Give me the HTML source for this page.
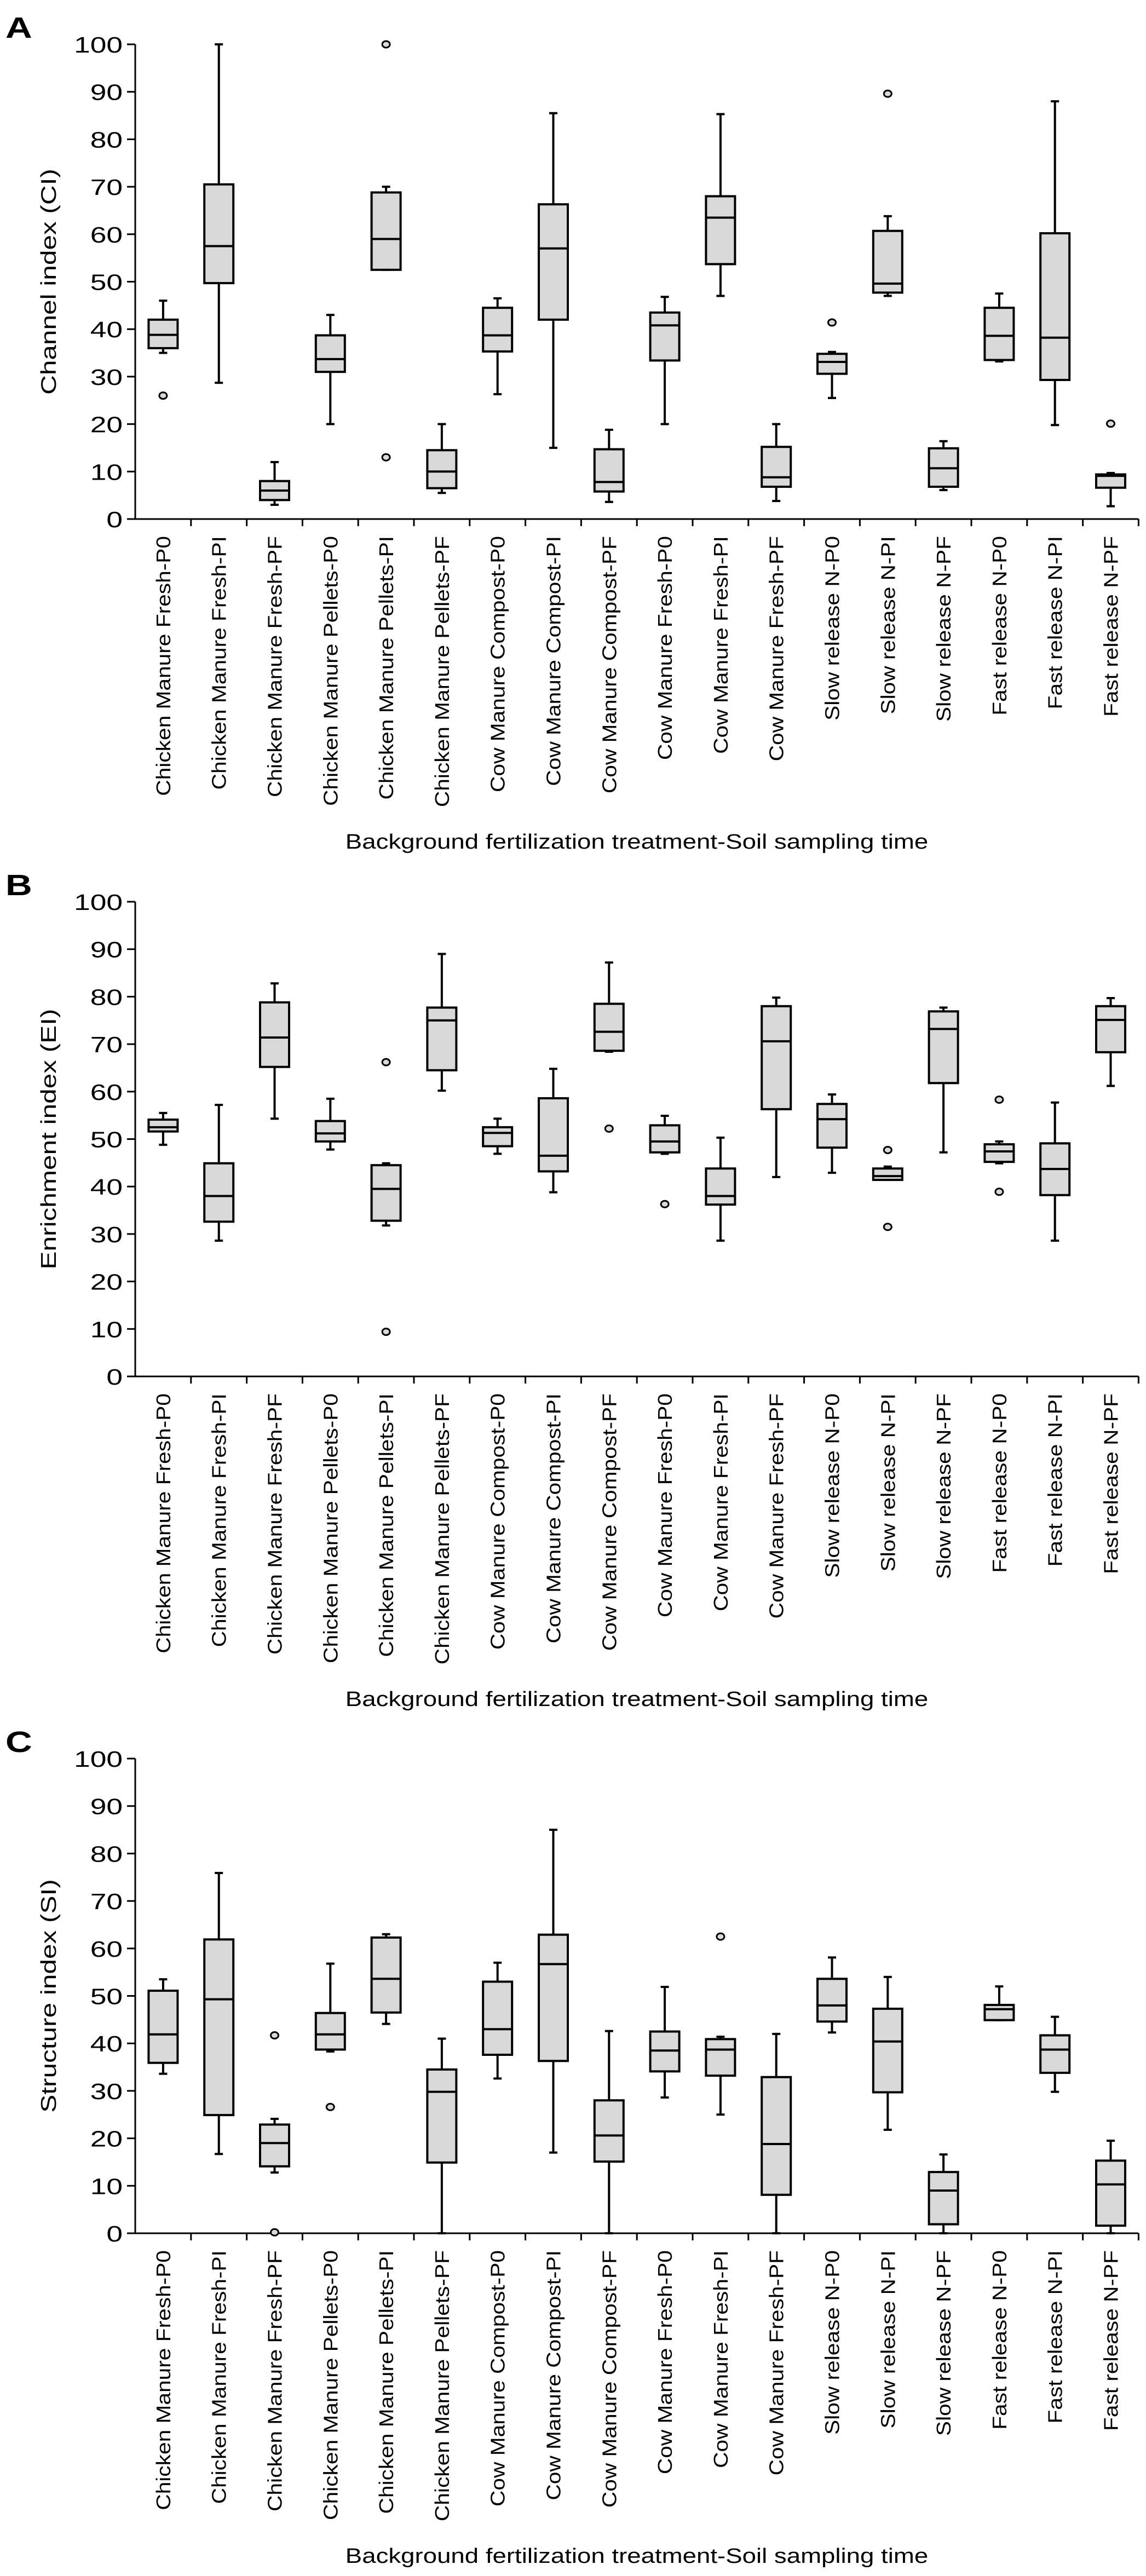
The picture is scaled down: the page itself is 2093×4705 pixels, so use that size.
<!DOCTYPE html>
<html><head><meta charset="utf-8"><style>
html,body{margin:0;padding:0;background:#fff;}
svg{display:block;font-family:"Liberation Sans",Arial,sans-serif;}
</style></head><body>
<svg id="chart" width="2093" height="4705" viewBox="0 0 2093 4705" xmlns="http://www.w3.org/2000/svg"></svg>
<script>
const categories = ["Chicken Manure Fresh-P0","Chicken Manure Fresh-PI","Chicken Manure Fresh-PF","Chicken Manure Pellets-P0","Chicken Manure Pellets-PI","Chicken Manure Pellets-PF","Cow Manure Compost-P0","Cow Manure Compost-PI","Cow Manure Compost-PF","Cow Manure Fresh-P0","Cow Manure Fresh-PI","Cow Manure Fresh-PF","Slow release N-P0","Slow release N-PI","Slow release N-PF","Fast release N-P0","Fast release N-PI","Fast release N-PF"];
const yTicks = [0,10,20,30,40,50,60,70,80,90,100];
// each row: [lowerWhisker, q1, median, q3, upperWhisker]
const ciBoxes = [[35,36,38.8,42,46],[28.7,49.7,57.5,70.5,100],[3,4,6,8,12],[20,31,33.7,38.7,43],[52.5,52.5,59,68.8,70],[5.5,6.5,10,14.5,20],[26.3,35.3,38.7,44.5,46.5],[15,42,57,66.3,85.5],[3.6,5.8,7.8,14.7,18.8],[20,33.4,40.8,43.5,46.8],[47,53.7,63.5,68,85.3],[3.8,6.8,8.8,15.2,20],[25.5,30.6,33.1,34.8,35.2],[47,47.7,49.6,60.7,63.8],[6.1,6.8,10.7,14.9,16.4],[33.2,33.5,38.6,44.5,47.5],[19.8,29.3,38.2,60.2,88],[2.7,6.6,9.1,9.4,9.7]];
const ciOutliers = [[0,26],[4,100],[4,13],[12,41.4],[13,89.6],[17,20.1]];
const eiBoxes = [[48.8,51.6,52.5,54.1,55.5],[28.6,32.6,38,44.9,57.2],[54.3,65.2,71.4,78.8,82.8],[47.8,49.5,51.2,53.8,58.5],[31.8,32.8,39.5,44.5,44.9],[60.2,64.5,75,77.7,89],[46.9,48.5,51.3,52.5,54.3],[38.8,43.2,46.5,58.6,64.8],[68.4,68.6,72.6,78.5,87.2],[46.9,47.2,49.5,52.9,54.9],[28.6,36.2,38,43.8,50.3],[42,56.3,70.6,78,79.8],[42.9,48.2,54.2,57.4,59.4],[41.4,41.4,42.2,43.8,44.2],[47.2,61.8,73.2,76.9,77.7],[44.9,45.2,47.4,48.9,49.5],[28.6,38.2,43.7,49.1,57.7],[61.2,68.3,75.1,78,79.7]];
const eiOutliers = [[4,66.2],[4,9.4],[8,52.2],[9,36.3],[13,47.7],[13,31.5],[15,58.3],[15,38.9]];
const siBoxes = [[33.6,35.9,41.9,51.1,53.5],[16.7,24.9,49.3,61.9,75.9],[12.8,14.1,19,22.9,24.1],[38.3,38.7,41.9,46.4,56.8],[44.1,46.5,53.6,62.3,63],[0,14.9,29.8,34.5,41],[32.6,37.6,43,53,57],[17,36.3,56.7,62.9,85],[0,15.1,20.6,28,42.6],[28.6,34.1,38.5,42.5,51.9],[25,33.2,38.7,40.9,41.4],[0,8.1,18.8,32.9,42],[42.3,44.6,48,53.6,58.1],[21.8,29.7,40.4,47.3,54],[0,1.9,9,12.9,16.6],[44.9,44.9,47.2,48.1,52],[29.8,33.8,38.7,41.7,45.6],[0,1.6,10.3,15.3,19.5]];
const siOutliers = [[2,41.7],[2,0.2],[3,26.6],[10,62.5]];

const NS = "http://www.w3.org/2000/svg";
const svg = document.getElementById("chart");
function mk(tag, attrs, parent){ const e=document.createElementNS(NS,tag); for(const k in attrs) e.setAttribute(k,attrs[k]); (parent||svg).appendChild(e); return e; }

const X0 = 247, STEP = 101.8;
function xCenter(i){ return X0 + STEP*(i+0.5); }

function panel(letter, yTitle, top, boxes, outliers, key){
  const g = mk("g",{});
  
  
  const zero = top + 867;
  const y = v => zero - v*8.67;
  const lbl = mk("text",{x:10,y:top-12,"font-size":54,"font-weight":"bold",transform:`translate(10,${top-12}) scale(1.25,1) translate(-10,${-(top-12)})`},g);
  lbl.textContent = letter;
  
  
  const ya = mk("line",{x1:X0,y1:y(100),x2:X0,y2:zero+1.5,stroke:"#000","stroke-width":3},g);
  
  
  const xa = mk("line",{x1:X0-1.5,y1:zero,x2:X0+STEP*18,y2:zero,stroke:"#000","stroke-width":3},g);
  
  
  yTicks.forEach(t=>{
    mk("line",{x1:X0-15,y1:y(t),x2:X0,y2:y(t),stroke:"#000","stroke-width":3},g);
    const tx = mk("text",{x:0,y:0,"font-size":41,"text-anchor":"end",transform:`translate(224,${y(t)+15}) scale(1.3,1)`},g);
    tx.textContent = t;
    
    
  });
  for(let i=1;i<=18;i++) mk("line",{x1:X0+STEP*i,y1:zero,x2:X0+STEP*i,y2:zero+13,stroke:"#000","stroke-width":3},g);
  const yt = mk("text",{x:0,y:0,"font-size":39,"text-anchor":"middle",transform:`translate(102,${y(50)}) rotate(-90) scale(1.27,1)`},g);
  yt.textContent = yTitle;
  
  
  categories.forEach((c,i)=>{
    const t = mk("text",{x:0,y:0,"font-size":36,"text-anchor":"end",transform:`translate(${xCenter(i)+13},${zero+31}) rotate(-90) scale(1.13,1)`},g);
    t.textContent = c;
    
    
  });
  const xt = mk("text",{x:0,y:0,"font-size":38,"text-anchor":"middle",transform:`translate(1163,${zero+602}) scale(1.2,1)`},g);
  xt.textContent = "Background fertilization treatment-Soil sampling time";
  
  
  boxes.forEach((b,i)=>{
    const cx = xCenter(i), w = 53, cw = 15;
    const bg = mk("g",{stroke:"#000","stroke-width":4,fill:"none"},g);
    
    
    mk("line",{x1:cx,y1:y(b[4]),x2:cx,y2:y(b[3])},bg);
    mk("line",{x1:cx,y1:y(b[0]),x2:cx,y2:y(b[1])},bg);
    mk("line",{x1:cx-cw/2,y1:y(b[4]),x2:cx+cw/2,y2:y(b[4])},bg);
    mk("line",{x1:cx-cw/2,y1:y(b[0]),x2:cx+cw/2,y2:y(b[0])},bg);
    mk("rect",{x:cx-w/2,y:y(b[3]),width:w,height:Math.max(0,y(b[1])-y(b[3])),fill:"#d9d9d9"},bg);
    mk("line",{x1:cx-w/2,y1:y(b[2]),x2:cx+w/2,y2:y(b[2])},bg);
  });
  outliers.forEach(o=>{
    const c = mk("ellipse",{cx:xCenter(o[0]),cy:y(o[1]),rx:7,ry:6,fill:"#d9d9d9",stroke:"#000","stroke-width":3},g);
    
    
  });
}
panel("A","Channel index (CI)",81,ciBoxes,ciOutliers,"ci");
panel("B","Enrichment index (EI)",1647,eiBoxes,eiOutliers,"ei");
panel("C","Structure index (SI)",3212,siBoxes,siOutliers,"si");
</script>
</body></html>
